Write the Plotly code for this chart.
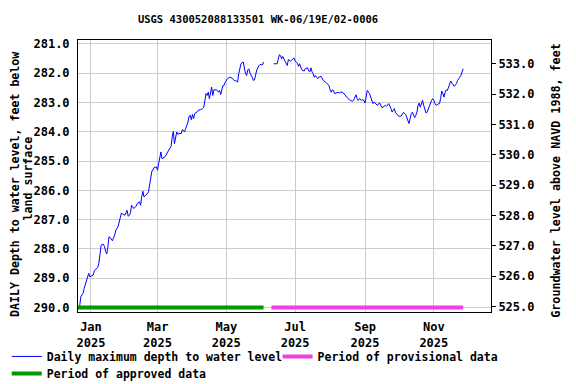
import pandas as pd
import plotly.graph_objects as go

# ---- data ----
# day offsets relative to 2025-01-01, depth below land surface (ft)
seg1_days = [-10, -9, -8, -7, -6, -4, -3, -2, -1, 1, 2, 3, 5, 6, 7, 8, 9, 11, 12, 13, 14, 15, 16, 17, 18, 19,
             21, 22, 24, 25, 27, 28, 30, 31, 32, 33, 34, 35, 36, 37, 38, 40, 41, 43, 44, 45, 46, 47, 49, 51,
             52, 54, 55, 56, 58, 59, 60, 61, 62, 63, 65, 66, 68, 69, 71, 72, 73, 74, 75, 76, 77, 78, 80, 81,
             82, 83, 84, 86, 87, 88, 89, 90, 91, 92, 94, 95, 97, 99, 100, 101, 102, 103, 104, 105, 106, 107,
             108, 109, 111, 112, 113, 114, 115, 116, 117, 118, 119, 121, 122, 123, 125, 126, 127, 129, 130,
             131, 132, 133, 135, 136, 137, 138, 139, 140, 141, 143, 144, 145, 146, 147, 149, 150, 152, 153]
seg1_depth = [289.94, 289.63, 289.57, 289.51, 289.34, 289.06, 289.00, 288.83, 288.95, 288.92, 288.89, 288.74,
              288.66, 288.63, 288.49, 288.21, 287.87, 287.84, 287.92, 288.09, 288.17, 287.92, 287.58, 287.61,
              287.67, 287.72, 287.53, 287.36, 287.24, 287.07, 286.77, 286.81, 286.85, 286.77, 286.68, 286.88,
              286.85, 286.77, 286.51, 286.56, 286.62, 286.54, 286.45, 286.39, 286.51, 286.22, 286.03, 286.22,
              286.16, 286.05, 285.77, 285.34, 285.31, 285.22, 285.20, 285.31, 285.09, 284.80, 284.69, 284.92,
              284.88, 284.84, 284.69, 284.63, 284.50, 284.18, 283.99, 284.41, 284.24, 284.01, 284.09, 284.06,
              284.06, 283.93, 283.95, 284.01, 283.89, 283.67, 283.47, 283.44, 283.59, 283.41, 283.55, 283.38,
              283.33, 283.27, 283.25, 283.21, 283.16, 282.87, 282.70, 282.76, 282.65, 282.87, 282.70, 282.48,
              282.76, 282.57, 282.57, 282.59, 282.65, 282.59, 282.73, 282.59, 282.42, 282.42, 282.31, 282.19,
              282.16, 282.14, 282.17, 282.23, 282.25, 282.27, 282.31, 282.02, 281.85, 281.68, 281.62, 281.85,
              282.02, 282.08, 281.89, 281.85, 282.00, 282.14, 282.25, 282.23, 282.08, 281.89, 281.74, 281.70,
              281.72, 281.62]
seg2_days = [162, 165, 166, 167, 168, 169, 170, 171, 172, 174, 175, 177, 178, 179, 180, 181, 183, 184, 185,
             186, 187, 189, 190, 192, 193, 194, 195, 196, 197, 198, 199, 201, 202, 204, 205, 206, 208, 209,
             211, 212, 213, 214, 215, 216, 218, 219, 220, 221, 223, 224, 226, 227, 229, 230, 232, 233, 235,
             236, 237, 238, 240, 241, 242, 243, 244, 245, 247, 248, 249, 250, 251, 252, 253, 254, 255, 256,
             257, 258, 260, 261, 262, 263, 264, 266, 267, 268, 269, 270, 271, 272, 273, 275, 276, 277, 279,
             280, 281, 282, 283, 284, 285, 286, 287, 288, 289, 290, 291, 292, 293, 294, 295, 296, 297, 298,
             299, 301, 302, 303, 304, 305, 306, 307, 309, 310, 311, 312, 313, 314, 315, 316, 317, 318, 319,
             320, 321, 322, 324, 325, 327, 328, 329, 330]
seg2_depth = [281.68, 281.68, 281.54, 281.37, 281.40, 281.51, 281.43, 281.54, 281.59, 281.74, 281.54, 281.59,
              281.54, 281.51, 281.48, 281.59, 281.66, 281.77, 281.68, 281.79, 281.89, 281.93, 281.85, 281.82,
              281.93, 281.96, 281.82, 281.96, 282.02, 282.14, 282.08, 282.19, 282.14, 282.11, 282.19, 282.25,
              282.31, 282.34, 282.42, 282.57, 282.65, 282.57, 282.59, 282.70, 282.68, 282.65, 282.68, 282.65,
              282.65, 282.70, 282.76, 282.82, 282.91, 282.93, 282.96, 282.91, 282.74, 282.87, 282.93, 282.87,
              282.93, 282.91, 282.93, 283.02, 282.70, 282.59, 282.70, 282.82, 282.93, 283.04, 282.99, 283.02,
              283.07, 283.10, 283.04, 283.02, 283.10, 283.18, 283.13, 283.10, 283.13, 283.07, 283.04, 283.21,
              283.33, 283.27, 283.21, 283.36, 283.38, 283.44, 283.47, 283.47, 283.38, 283.34, 283.41, 283.52,
              283.63, 283.72, 283.55, 283.38, 283.33, 283.44, 283.52, 283.44, 283.33, 283.10, 283.02, 283.16,
              282.99, 282.93, 283.10, 283.27, 283.36, 283.33, 283.21, 283.04, 282.93, 282.87, 282.93, 283.04,
              283.10, 283.07, 283.04, 282.87, 282.61, 282.70, 282.82, 282.65, 282.57, 282.59, 282.50, 282.42,
              282.27, 282.34, 282.42, 282.45, 282.36, 282.25, 282.14, 282.08, 281.96, 281.85]

approved_period = ["2024-12-20", "2025-06-03"]
provisional_period = ["2025-06-10", "2025-11-27"]
period_level = [290.0, 290.0]

title_text = "USGS 430052088133501 WK-06/19E/02-0006"
left_title_1 = "DAILY Depth to water level, feet below"
left_title_2 = "land surface"
right_title = "Groundwater level above NAVD 1988, feet"

base = pd.Timestamp("2025-01-01")
x1 = [base + pd.Timedelta(days=d) for d in seg1_days]
x2 = [base + pd.Timedelta(days=d) for d in seg2_days]
x_all = x1 + [None] + x2
y_all = seg1_depth + [None] + seg2_depth

FONT = "DejaVu Sans Mono"
OFF = 8                      # page body margin offset
W, H = 576 - OFF, 384 - OFF
# plot area in page (viewport) pixels
PL, PR, PT, PB = 78.3, 491.5, 39.5, 312.0
L, R, T, B = PL - OFF, W - (PR - OFF), PT - OFF, H - (PB - OFF)
PW = W - L - R
PH = H - T - B


def px_x(px):
    return (px - OFF - L) / PW


def px_y(py):
    return (H - B - (py - OFF)) / PH


fig = go.Figure()
fig.add_trace(go.Scatter(x=x_all, y=y_all, mode="lines", connectgaps=False,
                         line=dict(color="#0000ff", width=1),
                         name="Daily maximum depth to water level", legend="legend"))
fig.add_trace(go.Scatter(x=provisional_period, y=period_level, mode="lines",
                         line=dict(color="#f040e0", width=4),
                         name="Period of provisional data", legend="legend2"))
fig.add_trace(go.Scatter(x=approved_period, y=period_level, mode="lines",
                         line=dict(color="#009900", width=4),
                         name="Period of approved data", legend="legend3"))
# right axis association
fig.add_trace(go.Scatter(x=[], y=[], yaxis="y2", showlegend=False, hoverinfo="skip"))

leg_common = dict(orientation="h", xanchor="left", yanchor="top",
                  font=dict(family=FONT, size=11.5, weight="bold"),
                  bgcolor="rgba(0,0,0,0)")

fig.update_layout(
    width=W, height=H,
    margin=dict(l=L, r=R, t=T, b=B, pad=0, autoexpand=False),
    paper_bgcolor="white", plot_bgcolor="white",
    font=dict(family=FONT, size=12, color="black", weight="bold"),
    title=dict(text=title_text, x=px_x(258) * PW / W + L / W, xanchor="center",
               yref="container", y=1 - (19 - OFF) / H, yanchor="middle",
               font=dict(family=FONT, size=10.5, weight="bold")),
    xaxis=dict(range=["2024-12-20 12:00", "2025-12-21 16:00"], type="date",
               tick0="2025-01-01", dtick="M2", tickformat="%b<br>%Y",
               showgrid=True, gridcolor="#cccccc", gridwidth=1,
               showline=True, linecolor="black", linewidth=1, mirror=True,
               ticks="", ticklabelstandoff=4, zeroline=False),
    yaxis=dict(range=[290.15, 280.87], tick0=281, dtick=1, tickformat=".1f",
               showgrid=True, gridcolor="#cccccc", gridwidth=1,
               showline=True, linecolor="black", linewidth=1, mirror=True,
               ticks="", ticklabelstandoff=5, zeroline=False),
    yaxis2=dict(range=[524.82, 533.78], overlaying="y", side="right",
                tick0=525, dtick=1, tickformat=".1f", showgrid=False,
                ticks="outside", ticklen=4, tickcolor="black", zeroline=False),
    showlegend=True,
    legend=dict(x=px_x(7), y=px_y(342), **leg_common),
    legend2=dict(x=px_x(278), y=px_y(342), **leg_common),
    legend3=dict(x=px_x(7), y=px_y(359), **leg_common),
    annotations=[
        dict(text=left_title_1, xref="paper", yref="paper", x=px_x(16), y=px_y(184),
             xanchor="center", yanchor="middle", textangle=-90, showarrow=False,
             font=dict(family=FONT, size=11.6, weight="bold")),
        dict(text=left_title_2, xref="paper", yref="paper", x=px_x(28.5), y=px_y(178),
             xanchor="center", yanchor="middle", textangle=-90, showarrow=False,
             font=dict(family=FONT, size=11.6, weight="bold")),
        dict(text=right_title, xref="paper", yref="paper", x=px_x(557), y=px_y(180),
             xanchor="center", yanchor="middle", textangle=-90, showarrow=False,
             font=dict(family=FONT, size=11.7, weight="bold")),
    ],
)

fig.write_html("out.html")
